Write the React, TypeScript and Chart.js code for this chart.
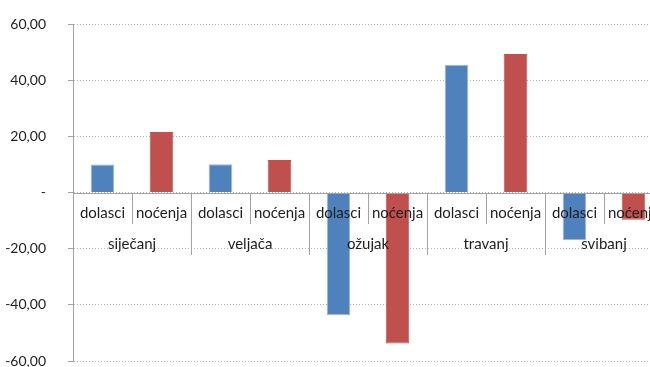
import React, { useEffect, useRef } from "react";
import { Chart, registerables } from "chart.js";

Chart.register(...registerables);

const months = ["siječanj", "veljača", "ožujak", "travanj", "svibanj"];
const measures = ["dolasci", "noćenja"];
const dolasci = [10.0, 10.1, -43.7, 45.4, -17.0];
const nocenja = [21.5, 11.6, -53.8, 49.3, -9.7];
const measureColors = ["#4f81bd", "#c0504d"];
const measureBorders = ["#9fb9dc", "#c0504d"];
const yTicks = { min: -60, max: 60, step: 20 };

const FONT = "Lato, 'Open Sans', sans-serif";
const AXIS_GRAY = "#a3a3a3";
const TEXT = "#1e1e1e";

function formatTick(v: number): string {
  if (v === 0) return "-";
  return v.toFixed(2).replace(".", ",");
}

// Two-level category axis drawn along the zero line
const categoryAxisPlugin = {
  id: "categoryAxis",
  afterDatasetsDraw(chart: any) {
    const { ctx, chartArea, scales } = chart;
    const x = scales.x;
    const y = scales.y;
    const y0 = y.getPixelForValue(0);
    const n = chart.data.labels.length;
    const step = (chartArea.right - chartArea.left) / n;

    ctx.save();
    ctx.strokeStyle = AXIS_GRAY;
    ctx.lineWidth = 1;
    ctx.beginPath();
    ctx.moveTo(chartArea.left, Math.round(y0) + 0.5);
    ctx.lineTo(chartArea.right, Math.round(y0) + 0.5);
    ctx.stroke();

    for (let i = 1; i <= n; i++) {
      const bx = Math.round(chartArea.left + i * step) + 0.5;
      const len = i % measures.length === 0 ? 62 : 31;
      ctx.beginPath();
      ctx.moveTo(bx, Math.round(y0));
      ctx.lineTo(bx, Math.round(y0) + len);
      ctx.stroke();
    }

    ctx.fillStyle = TEXT;
    ctx.font = `15px ${FONT}`;
    ctx.textAlign = "center";
    ctx.textBaseline = "middle";
    for (let i = 0; i < n; i++) {
      const cx = x.getPixelForValue(i);
      ctx.fillText(measures[i % measures.length], cx, y0 + 21);
    }
    months.forEach((m, mi) => {
      const a = x.getPixelForValue(mi * measures.length);
      const b = x.getPixelForValue(mi * measures.length + measures.length - 1);
      ctx.fillText(m, (a + b) / 2, y0 + 52);
    });
    ctx.restore();
  },
};

export default function App() {
  const canvasRef = useRef<HTMLCanvasElement | null>(null);

  useEffect(() => {
    if (!canvasRef.current) return;
    const labels: string[] = [];
    const values: number[] = [];
    const colors: string[] = [];
    const borders: string[] = [];
    months.forEach((m, i) => {
      [dolasci[i], nocenja[i]].forEach((v, k) => {
        labels.push(`${m} ${measures[k]}`);
        values.push(v);
        colors.push(measureColors[k]);
        borders.push(measureBorders[k]);
      });
    });

    const chart = new Chart(canvasRef.current, {
      type: "bar",
      data: {
        labels,
        datasets: [
          {
            data: values,
            backgroundColor: colors,
            borderColor: borders,
            borderWidth: 1,
            barPercentage: 0.4,
            categoryPercentage: 1,
          },
        ],
      },
      options: {
        animation: false,
        responsive: false,
        layout: { padding: { left: 0, right: 0, top: 24, bottom: 19 } },
        plugins: { legend: { display: false }, tooltip: { enabled: false } },
        scales: {
          x: { display: false },
          y: {
            min: yTicks.min,
            max: yTicks.max,
            afterFit: (axis: any) => {
              axis.width = 73;
              axis.paddingTop = 0;
              axis.paddingBottom = 0;
            },
            ticks: {
              stepSize: yTicks.step,
              padding: 22,
              color: TEXT,
              font: { family: FONT, size: 14 },
              callback: (v: any) => formatTick(Number(v)),
            },
            grid: {
              color: "#b8b8b8",
              tickLength: 5,
              tickColor: AXIS_GRAY,
              tickBorderDash: [],
            },
            border: { color: AXIS_GRAY, width: 1, dash: [1, 2] },
          },
        },
      },
      plugins: [categoryAxisPlugin],
    });
    return () => chart.destroy();
  }, []);

  return (
    <div
      style={{
        position: "fixed",
        left: 0,
        top: 0,
        width: 650,
        height: 367,
        overflow: "hidden",
        background: "#fff",
      }}
    >
      <canvas ref={canvasRef} width={663} height={380} />
    </div>
  );
}
